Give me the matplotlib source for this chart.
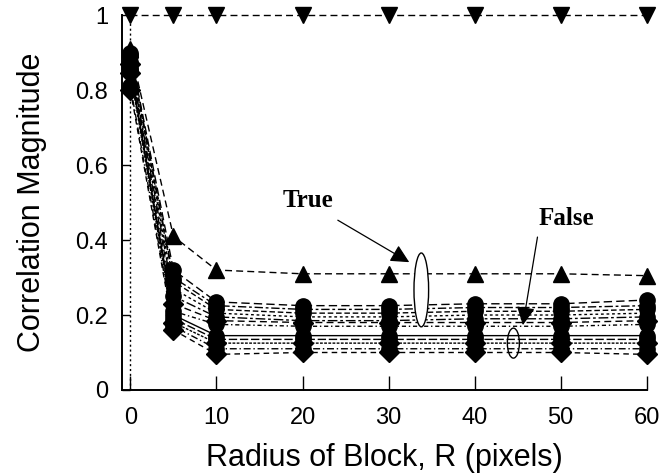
import matplotlib
matplotlib.use("Agg")
import matplotlib.pyplot as plt
from matplotlib.patches import Ellipse

# ---------------- data ----------------
radius = [0, 5, 10, 20, 30, 40, 50, 60]
false_top = [1.0, 1.0, 1.0, 1.0, 1.0, 1.0, 1.0, 1.0]
true_tri = [0.91, 0.41, 0.32, 0.31, 0.31, 0.31, 0.31, 0.305]
s01 = [0.90, 0.32, 0.235, 0.225, 0.225, 0.230, 0.230, 0.240]
s02 = [0.895, 0.30, 0.225, 0.215, 0.215, 0.220, 0.220, 0.225]
s03 = [0.89, 0.29, 0.215, 0.205, 0.205, 0.210, 0.210, 0.215]
s04 = [0.88, 0.27, 0.205, 0.195, 0.195, 0.200, 0.200, 0.205]
s05 = [0.875, 0.25, 0.195, 0.185, 0.185, 0.190, 0.190, 0.195]
s06 = [0.87, 0.23, 0.185, 0.180, 0.180, 0.180, 0.180, 0.185]
s07 = [0.86, 0.21, 0.175, 0.170, 0.170, 0.170, 0.170, 0.175]
s08 = [0.855, 0.20, 0.145, 0.145, 0.145, 0.145, 0.145, 0.145]
s09 = [0.85, 0.19, 0.135, 0.135, 0.135, 0.135, 0.135, 0.135]
s10 = [0.845, 0.18, 0.125, 0.125, 0.125, 0.125, 0.125, 0.125]
s11 = [0.81, 0.17, 0.110, 0.110, 0.110, 0.110, 0.110, 0.110]
s12 = [0.80, 0.16, 0.095, 0.100, 0.100, 0.100, 0.100, 0.095]
series = [s01, s02, s03, s04, s05, s06, s07, s08, s09, s10, s11, s12]
markers = ['o', 'o', 'o', 'h', 'o', 'D', 'o', 'o', 'o', 'D', 'o', 'D']
styles = [(0, (6, 3)), (0, (6, 2, 2, 2)), (0, (4, 2)), (0, (2, 2)),
          (0, (7, 2, 2, 2)), (0, (5, 3)), (0, (3, 2, 1, 2)), '-',
          (0, (6, 2)), (0, (2, 1)), (0, (5, 2, 1, 2)), (0, (4, 3))]

yticks = [0, 0.2, 0.4, 0.6, 0.8, 1]
ytick_labels = ["0", "0.2", "0.4", "0.6", "0.8", "1"]
xticks = [0, 10, 20, 30, 40, 50, 60]

true_text = (20.6, 0.505)
true_start = (24.1, 0.453)
true_tip = (32.4, 0.341)
false_text = (50.7, 0.458)
false_start = (47.3, 0.408)
false_tip = (45.6, 0.173)

# ---------------- plot ----------------
sans = ["Liberation Sans", "DejaVu Sans"]
serif = ["Liberation Serif", "DejaVu Serif"]

fig = plt.figure(figsize=(6.62, 4.75), dpi=100)
ax = fig.add_axes([0.184, 0.179, 0.793, 0.789])

ax.axvline(0, color="black", lw=1.0, ls=(0, (1.5, 2)), zorder=1)

ax.plot(radius, false_top, color="black", lw=1.0, ls=(0, (5, 3)),
        marker="v", ms=12, mfc="black", clip_on=False, zorder=3)
ax.plot(radius, true_tri, color="black", lw=1.0, ls=(0, (5, 3)),
        marker="^", ms=12, mfc="black", clip_on=False, zorder=3)
for ys, m, ls in zip(series, markers, styles):
    ms = 10 if m == 'D' else 11
    ax.plot(radius, ys, color="black", lw=1.0, ls=ls, marker=m, ms=ms,
            mfc="black", mec="black", clip_on=False, zorder=2)

ax.add_patch(Ellipse((33.8, 0.267), 1.7, 0.197, fill=True, fc="white",
                     ec="black", lw=1.0, zorder=4))
ax.add_patch(Ellipse((44.5, 0.125), 1.4, 0.08, fill=False,
                     ec="black", lw=1.0, zorder=4))

ax.text(*true_text, "True", ha="center", va="center", fontsize=18,
        fontweight="bold", family=serif, zorder=5)
ax.text(*false_text, "False", ha="center", va="center", fontsize=18,
        fontweight="bold", family=serif, zorder=5)
for start, tip in ((true_start, true_tip), (false_start, false_tip)):
    ax.annotate("", xy=tip, xytext=start,
                arrowprops=dict(arrowstyle="-|>", color="black", lw=0.9,
                                mutation_scale=28, shrinkA=0, shrinkB=0),
                zorder=5)

ax.set_xlim(-1, 60)
ax.set_ylim(0, 1)
ax.spines["top"].set_visible(False)
ax.spines["right"].set_visible(False)
for s in ("left", "bottom"):
    ax.spines[s].set_linewidth(1.4)

ax.set_xticks(xticks)
ax.set_xticklabels([str(v) for v in xticks], family=sans, fontsize=17)
ax.set_yticks(yticks)
ax.set_yticklabels(ytick_labels, family=sans, fontsize=17)
ax.tick_params(axis="x", direction="in", length=10, width=1.0, pad=12)
ax.tick_params(axis="y", direction="in", length=6, width=1.0, pad=10)

ax.set_xlabel("Radius of Block, R (pixels)", family=sans, fontsize=22, labelpad=10)
ax.set_ylabel("Correlation Magnitude", family=sans, fontsize=22, labelpad=20)

fig.savefig("out.png", dpi=100, facecolor="white")
